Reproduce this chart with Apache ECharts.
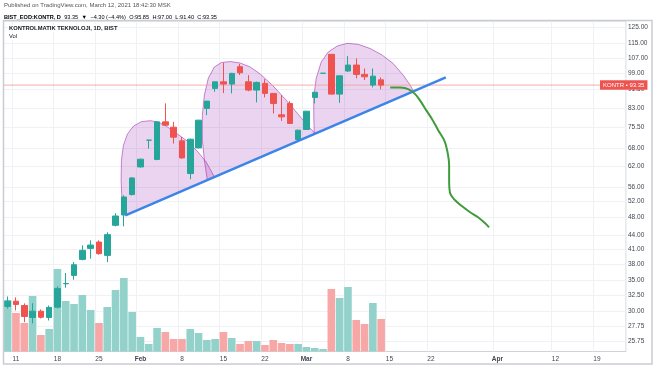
<!DOCTYPE html>
<html><head><meta charset="utf-8">
<script src="https://cdn.jsdelivr.net/npm/echarts@6/dist/echarts.min.js"></script>
<style>html,body{margin:0;padding:0;background:#fff}#c{width:654px;height:366px}</style>
</head><body><div id="c"></div>
<script>
// ---- categories: trading days (BIST, daily) ----
const categories = [
  '2021-01-08',
  '2021-01-11','2021-01-12','2021-01-13','2021-01-14','2021-01-15',
  '2021-01-18','2021-01-19','2021-01-20','2021-01-21','2021-01-22',
  '2021-01-25','2021-01-26','2021-01-27','2021-01-28','2021-01-29',
  '2021-02-01','2021-02-02','2021-02-03','2021-02-04','2021-02-05',
  '2021-02-08','2021-02-09','2021-02-10','2021-02-11','2021-02-12',
  '2021-02-15','2021-02-16','2021-02-17','2021-02-18','2021-02-19',
  '2021-02-22','2021-02-23','2021-02-24','2021-02-25','2021-02-26',
  '2021-03-01','2021-03-02','2021-03-03','2021-03-04','2021-03-05',
  '2021-03-08','2021-03-09','2021-03-10','2021-03-11','2021-03-12',
  '2021-03-15','2021-03-16','2021-03-17','2021-03-18','2021-03-19',
  '2021-03-22','2021-03-23','2021-03-24','2021-03-25','2021-03-26',
  '2021-03-29','2021-03-30','2021-03-31','2021-04-01','2021-04-02',
  '2021-04-05','2021-04-06','2021-04-07','2021-04-08','2021-04-09',
  '2021-04-12','2021-04-13','2021-04-14','2021-04-15','2021-04-16',
  '2021-04-19','2021-04-20','2021-04-21','2021-04-22'
];
const tickDates = ['2021-01-11','2021-01-18','2021-01-25','2021-02-01','2021-02-08','2021-02-15','2021-02-22',
  '2021-03-01','2021-03-08','2021-03-15','2021-03-22','2021-04-01','2021-04-12','2021-04-19'];
const tickLabels = ['11','18','25','Feb','8','15','22','Mar','8','15','22','Apr','12','19'];
const priceTicks = [125,115,107,99,91.5,83,75.5,68,62,56,52,48,44,41,38,35,32.5,30,27.75,25.75];

// ---- OHLC ----
const open  = [30.70,31.52,30.85,29.04,29.98,29.04,30.59,34.40,35.88,38.89,41.10,42.43,39.68,46.15,48.61,53.86,61.88,70.79,64.24,77.61,75.56,70.54,59.86,68.10,83.03,91.82,94.91,93.83,102.40,94.91,91.04,94.16,89.54,80.40,85.14,71.03,74.70,87.75,99.08,108.95,89.22,100.20,103.25,98.52,93.36,95.85];
const close = [31.52,31.01,29.19,29.98,29.08,30.55,33.61,34.45,37.86,40.70,41.79,40.03,44.04,48.36,53.21,58.55,64.33,70.79,77.61,76.34,71.86,64.75,71.14,78.27,86.14,94.91,93.83,99.02,99.31,91.04,94.63,89.54,85.14,79.59,76.99,74.44,81.88,90.07,99.08,89.22,97.83,103.25,98.52,97.33,97.65,93.35];
const low   = [30.39,30.09,28.37,28.18,28.90,28.61,30.39,33.73,35.11,38.70,39.02,39.80,38.36,45.90,45.92,53.60,61.70,67.89,64.00,76.00,69.62,64.50,58.17,67.90,80.28,90.27,89.67,89.54,98.17,90.50,85.57,87.75,80.97,78.00,76.80,70.40,74.50,85.14,99.08,89.00,85.40,99.80,96.57,95.74,92.28,91.40];
const high  = [32.27,32.13,31.17,31.21,30.24,30.85,33.95,36.30,38.36,41.73,42.79,42.79,44.55,49.02,53.66,58.80,64.50,70.79,77.80,85.14,77.61,71.97,71.30,78.40,86.14,94.91,104.40,99.30,103.77,98.17,95.00,96.21,89.60,88.78,86.10,74.60,81.88,90.07,99.08,109.00,98.00,108.00,106.80,101.50,101.50,97.00];
// ---- volume (millions, estimated) ----
const volume = [5.15,3.85,2.85,5.55,1.65,2.25,8.25,5.05,4.75,5.65,4.15,2.85,4.45,6.15,7.35,3.95,1.45,0.75,2.35,1.95,1.25,1.25,2.25,1.85,1.15,1.25,1.95,1.35,0.75,1.05,1.05,0.65,1.15,0.85,0.75,0.75,0.45,0.35,0.25,6.25,5.35,6.45,3.15,2.75,4.85,3.25];
const lastPrice = 93.35;

// ---- drawings: [bar index, price] ----
const trendLine = [[14.19,48.53],[52.79,97.05]];
const shoulderLeft = [[14.19,48.53],[13.77,52.33],[13.67,57.88],[13.71,64.00],[13.95,69.02],[14.43,72.95],[15.15,75.95],[16.11,77.69],[17.20,78.08],[18.16,77.49],[19.12,75.95],[20.33,73.32],[21.65,70.43],[22.85,66.97],[23.94,63.36],[24.90,58.88]];
const head = [[24.06,57.93],[23.70,64.00],[23.46,70.78],[23.46,80.27],[23.70,88.77],[24.18,96.70],[24.90,102.21],[25.74,104.55],[26.83,105.08],[28.03,104.29],[29.23,102.21],[30.44,98.67],[31.88,93.36],[33.45,87.00],[34.89,81.09],[36.10,76.33],[37.06,73.17]];
const shoulderRight = [[36.94,73.03],[36.88,80.27],[36.88,87.89],[37.18,96.70],[37.78,104.81],[38.62,110.22],[39.71,113.60],[40.91,115.16],[42.24,114.58],[43.68,112.18],[45.12,108.57],[46.45,104.02],[47.65,98.18],[48.49,93.36],[48.92,90.36]];
const projection = [[46.09,92.28],[47.29,92.19],[48.25,91.50],[49.10,89.22],[49.82,85.70],[50.42,82.32],[51.14,78.67],[51.87,74.44],[52.59,70.78],[52.95,67.31],[53.19,62.41],[53.19,57.88],[53.31,54.21],[53.91,52.33],[54.76,50.78],[55.72,49.27],[56.68,48.05],[57.53,46.61],[58.00,45.69]];

const FONT = '"Liberation Sans", Arial, sans-serif';
const UP = '#26a69a', DOWN = '#ef5350';
const candleData = open.map((o, i) => [o, close[i], low[i], high[i]]);
const volData = volume.map((v, i) => {
  let up = close[i] > open[i] || (close[i] === open[i] && (i === 0 || close[i] >= close[i - 1]));
  return { value: v, itemStyle: { color: up ? '#93d2cb' : '#f7a8a6' } };
});
const isTick = (idx, val) => tickDates.indexOf(val) >= 0;
const priceLineData = [[-0.5, lastPrice], [categories.length - 0.5, lastPrice]];

function shapeSeries(pts) {
  return {
    type: 'custom', coordinateSystem: 'cartesian2d', xAxisIndex: 1, yAxisIndex: 0,
    z: 1, silent: true, clip: true,
    data: pts,
    renderItem: function (params, api) {
      if (params.dataIndex !== 0) return null;
      const p = pts.map(q => api.coord(q));
      return { type: 'polygon', shape: { points: p },
        style: { fill: 'rgba(156,39,176,0.2)', stroke: 'rgba(156,39,176,0.55)', lineWidth: 1 } };
    }
  };
}

const chart = echarts.init(document.getElementById('c'), null, { renderer: 'canvas' });
chart.setOption({
  animation: false,
  backgroundColor: '#ffffff',
  textStyle: { fontFamily: FONT },
  grid: [
    { left: 3.5, right: 28, top: 21, bottom: 14.5, show: true, borderColor: '#cfd2da', borderWidth: 1 },
    { left: 3.5, right: 28, bottom: 14.5, height: 100, show: false }
  ],
  xAxis: [
    { type: 'category', gridIndex: 0, data: categories, boundaryGap: true,
      axisLine: { show: false }, axisTick: { show: false },
      axisLabel: { interval: isTick, color: '#434651', fontSize: 6.5, fontFamily: FONT, margin: 4,
        formatter: v => { const t = tickLabels[tickDates.indexOf(v)]; return /[A-Za-z]/.test(t) ? '{m|' + t + '}' : t; },
        rich: { m: { fontWeight: 'bold', fontSize: 6.5, color: '#434651', fontFamily: FONT } } },
      splitLine: { show: true, interval: isTick, lineStyle: { color: '#eff1f5', width: 1 } } },
    { type: 'value', gridIndex: 0, min: -0.5, max: categories.length - 0.5, show: false },
    { type: 'category', gridIndex: 1, data: categories, boundaryGap: true, show: false }
  ],
  yAxis: [
    { type: 'log', gridIndex: 0, position: 'right', min: 24.48, max: 128.83,
      axisLine: { show: false },
      axisTick: { show: false, customValues: priceTicks },
      axisLabel: { customValues: priceTicks, formatter: v => Number(v).toFixed(2),
        color: '#434651', fontSize: 6.5, fontFamily: FONT, margin: 2 },
      splitLine: { show: true, lineStyle: { color: '#eff1f5', width: 1 } } },
    { type: 'value', gridIndex: 1, min: 0, max: 10, show: false, splitLine: { show: false } }
  ],
  series: [
    { type: 'bar', xAxisIndex: 2, yAxisIndex: 1, data: volData, barCategoryGap: '8%', z: 0, silent: true },
    shapeSeries(shoulderLeft), shapeSeries(head), shapeSeries(shoulderRight),
    { type: 'line', xAxisIndex: 1, yAxisIndex: 0, data: priceLineData, symbol: 'none', z: 2, silent: true,
      color: '#f19a98', lineStyle: { color: '#f19a98', width: 1, opacity: 0.8 } },
    { type: 'candlestick', xAxisIndex: 0, yAxisIndex: 0, data: candleData, barWidth: 6, z: 3,
      itemStyle: { color: UP, color0: DOWN, borderColor: UP, borderColor0: DOWN, borderWidth: 1 },
      markLine: { silent: true, symbol: 'none', animation: false, z: 12,
        lineStyle: { color: 'rgba(0,0,0,0)', width: 1, type: 'solid' },
        label: { show: true, position: 'end', distance: -26, formatter: 'KONTR • ' + lastPrice.toFixed(2),
          backgroundColor: '#ef5350', color: '#ffffff', fontSize: 6, fontFamily: FONT, padding: [2, 3, 1.5, 3], opacity: 1 },
        data: [{ yAxis: lastPrice }] } },
    { type: 'line', xAxisIndex: 1, yAxisIndex: 0, data: trendLine, symbol: 'none', z: 4, silent: true,
      lineStyle: { color: '#3b84e8', width: 2.5 } },
    { type: 'line', xAxisIndex: 1, yAxisIndex: 0, data: projection, symbol: 'none', smooth: 0.35, z: 4, silent: true,
      lineStyle: { color: '#3e9c3a', width: 2 } }
  ],
  graphic: [
    { type: 'rect', shape: { x: 3.5, y: 20.5, width: 648.5, height: 343.5 }, style: { fill: 'none', stroke: '#c9ccd4', lineWidth: 1.5 }, silent: true, z: 10 },
    { type: 'text', left: 4, top: 2, style: { text: 'Published on TradingView.com, March 12, 2021 18:42:30 MSK', font: '6px ' + FONT, fill: '#555' } },
    { type: 'text', left: 4, top: 11, style: {
      text: '{b|BIST_EOD:KONTR, D} {n|93.35} {r|▼} {n|−4.30 (−4.4%)} {n|O:}{r|95.85} {n|H:}{r|97.00} {n|L:}{r|91.40} {n|C:}{r|93.35}',
      rich: {
        b: { fontWeight: 'bold', fontSize: 5.6, fontFamily: FONT, color: '#131722' },
        n: { fontSize: 5.6, fontFamily: FONT, color: '#333' },
        r: { fontSize: 5.6, fontFamily: FONT, color: '#ef5350' }
      } } },
    { type: 'text', left: 8, top: 24.5, z: 20, style: { text: 'KONTROLMATIK TEKNOLOJI, 1D, BIST', font: 'bold 5.8px ' + FONT, fill: '#131722', backgroundColor: '#ffffff', padding: [0.5, 1] } },
    { type: 'text', left: 8, top: 33, z: 20, style: { text: 'Vol', font: '5.8px ' + FONT, fill: '#131722', backgroundColor: '#ffffff', padding: [0.5, 1] } }
  ]
});
</script></body></html>
